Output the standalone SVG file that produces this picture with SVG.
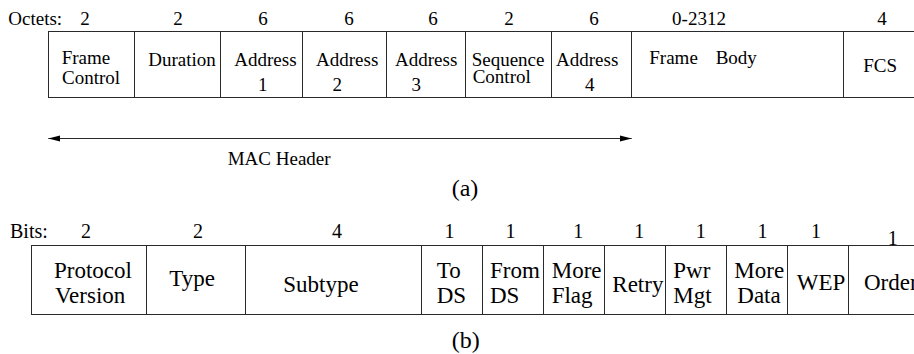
<svg xmlns="http://www.w3.org/2000/svg" width="914" height="354" viewBox="0 0 914 354">
<style>
  text { font-family: "Liberation Serif", "Times New Roman", serif; fill: #000; }
  .cell { fill: none; stroke: #2a2a2a; stroke-width: 1; }
  .t19 { font-size: 19px; }
  .t20 { font-size: 20px; }
  .t23 { font-size: 23px; }
  .t24 { font-size: 24px; }
  .mid { text-anchor: middle; }
  .conn { stroke: #2a2a2a; stroke-width: 1; fill: none; }
</style>
<defs>
  <marker id="ah" markerUnits="userSpaceOnUse" markerWidth="13" markerHeight="8" refX="12" refY="4" orient="auto-start-reverse">
    <polygon points="0,1 12,4 0,7" fill="#000"/>
  </marker>
</defs>
<rect width="914" height="354" fill="#fff"/>

<!-- (a) frame format -->
<g id="octets-labels" class="t19">
  <text x="8.3" y="25">Octets:</text>
  <text class="mid" x="85" y="25">2</text>
  <text class="mid" x="178" y="25">2</text>
  <text class="mid" x="263" y="25">6</text>
  <text class="mid" x="349" y="25">6</text>
  <text class="mid" x="433" y="25">6</text>
  <text class="mid" x="509" y="25">2</text>
  <text class="mid" x="594" y="25">6</text>
  <text class="mid" x="699" y="25">0-2312</text>
  <text class="mid" x="882" y="25">4</text>
</g>
<g id="frame-control" class="t19">
  <rect class="cell" x="48.5" y="31.5" width="86" height="66"/>
  <text x="61.7" y="64">Frame</text>
  <text x="62" y="83.5">Control</text>
</g>
<g id="duration" class="t19">
  <rect class="cell" x="134.5" y="31.5" width="86" height="66"/>
  <text x="148.3" y="65.5">Duration</text>
</g>
<g id="address1" class="t19">
  <rect class="cell" x="220.5" y="31.5" width="82" height="66"/>
  <text x="234.3" y="66">Address</text>
  <text x="258" y="90.5">1</text>
</g>
<g id="address2" class="t19">
  <rect class="cell" x="302.5" y="31.5" width="84" height="66"/>
  <text x="316" y="66">Address</text>
  <text x="332.5" y="90.5">2</text>
</g>
<g id="address3" class="t19">
  <rect class="cell" x="386.5" y="31.5" width="79" height="66"/>
  <text x="395" y="66">Address</text>
  <text x="411.5" y="90.5">3</text>
</g>
<g id="sequence-control" class="t19">
  <rect class="cell" x="465.5" y="31.5" width="86" height="66"/>
  <text x="471.7" y="66">Sequence</text>
  <text x="472.7" y="83">Control</text>
</g>
<g id="address4" class="t19">
  <rect class="cell" x="551.5" y="31.5" width="80" height="66"/>
  <text x="556" y="66">Address</text>
  <text x="585" y="90.5">4</text>
</g>
<g id="frame-body" class="t19">
  <rect class="cell" x="631.5" y="31.5" width="212" height="66"/>
  <text x="649.3" y="63.5">Frame</text>
  <text x="715.7" y="63.5">Body</text>
</g>
<g id="fcs" class="t19">
  <rect class="cell" x="843.5" y="31.5" width="80" height="66"/>
  <text x="863.3" y="71.7">FCS</text>
</g>

<g id="connectors">
  <line class="conn" x1="48.3" y1="138.5" x2="631.7" y2="138.5" marker-start="url(#ah)" marker-end="url(#ah)"/>
</g>
<g id="mac-header-label" class="t19">
  <text x="227.7" y="165">MAC Header</text>
</g>
<text class="t24" x="451.7" y="196">(a)</text>

<!-- (b) frame control field -->
<g id="bits-labels" class="t20">
  <text x="10" y="237.5">Bits:</text>
  <text class="mid" x="86" y="237.5">2</text>
  <text class="mid" x="198" y="237.5">2</text>
  <text class="mid" x="337" y="237.5">4</text>
  <text class="mid" x="449.5" y="237.5">1</text>
  <text class="mid" x="510.5" y="237.5">1</text>
  <text class="mid" x="578.3" y="237.5">1</text>
  <text class="mid" x="639.3" y="237.5">1</text>
  <text class="mid" x="700.7" y="237.5">1</text>
  <text class="mid" x="762.5" y="237.5">1</text>
  <text class="mid" x="816" y="237.5">1</text>
  <text class="mid" x="892.7" y="245">1</text>
</g>
<g id="protocol-version" class="t23">
  <rect class="cell" x="31.5" y="245.5" width="115" height="69"/>
  <text x="54" y="278.3">Protocol</text>
  <text x="55" y="303.3">Version</text>
</g>
<g id="type" class="t23">
  <rect class="cell" x="146.5" y="245.5" width="99" height="69"/>
  <text x="169.3" y="286">Type</text>
</g>
<g id="subtype" class="t23">
  <rect class="cell" x="245.5" y="245.5" width="176" height="69"/>
  <text x="283.3" y="291.7">Subtype</text>
</g>
<g id="to-ds" class="t23">
  <rect class="cell" x="421.5" y="245.5" width="61" height="69"/>
  <text x="436.7" y="277.7">To</text>
  <text x="436.7" y="303.3">DS</text>
</g>
<g id="from-ds" class="t23">
  <rect class="cell" x="482.5" y="245.5" width="61" height="69"/>
  <text x="490" y="278">From</text>
  <text x="490" y="303.3">DS</text>
</g>
<g id="more-flag" class="t23">
  <rect class="cell" x="543.5" y="245.5" width="61" height="69"/>
  <text x="551.7" y="278">More</text>
  <text x="551.7" y="303">Flag</text>
</g>
<g id="retry" class="t23">
  <rect class="cell" x="604.5" y="245.5" width="61" height="69"/>
  <text x="612.3" y="291.7">Retry</text>
</g>
<g id="pwr-mgt" class="t23">
  <rect class="cell" x="665.5" y="245.5" width="61" height="69"/>
  <text x="673.3" y="278.3">Pwr</text>
  <text x="673.3" y="303">Mgt</text>
</g>
<g id="more-data" class="t23">
  <rect class="cell" x="726.5" y="245.5" width="61" height="69"/>
  <text x="734.3" y="278">More</text>
  <text x="737.3" y="303">Data</text>
</g>
<g id="wep" class="t23">
  <rect class="cell" x="787.5" y="245.5" width="61" height="69"/>
  <text x="796.7" y="290">WEP</text>
</g>
<g id="order" class="t23">
  <rect class="cell" x="848.5" y="245.5" width="80" height="69"/>
  <text x="864" y="290">Order</text>
</g>
<text class="t24" x="451.7" y="348">(b)</text>
</svg>
